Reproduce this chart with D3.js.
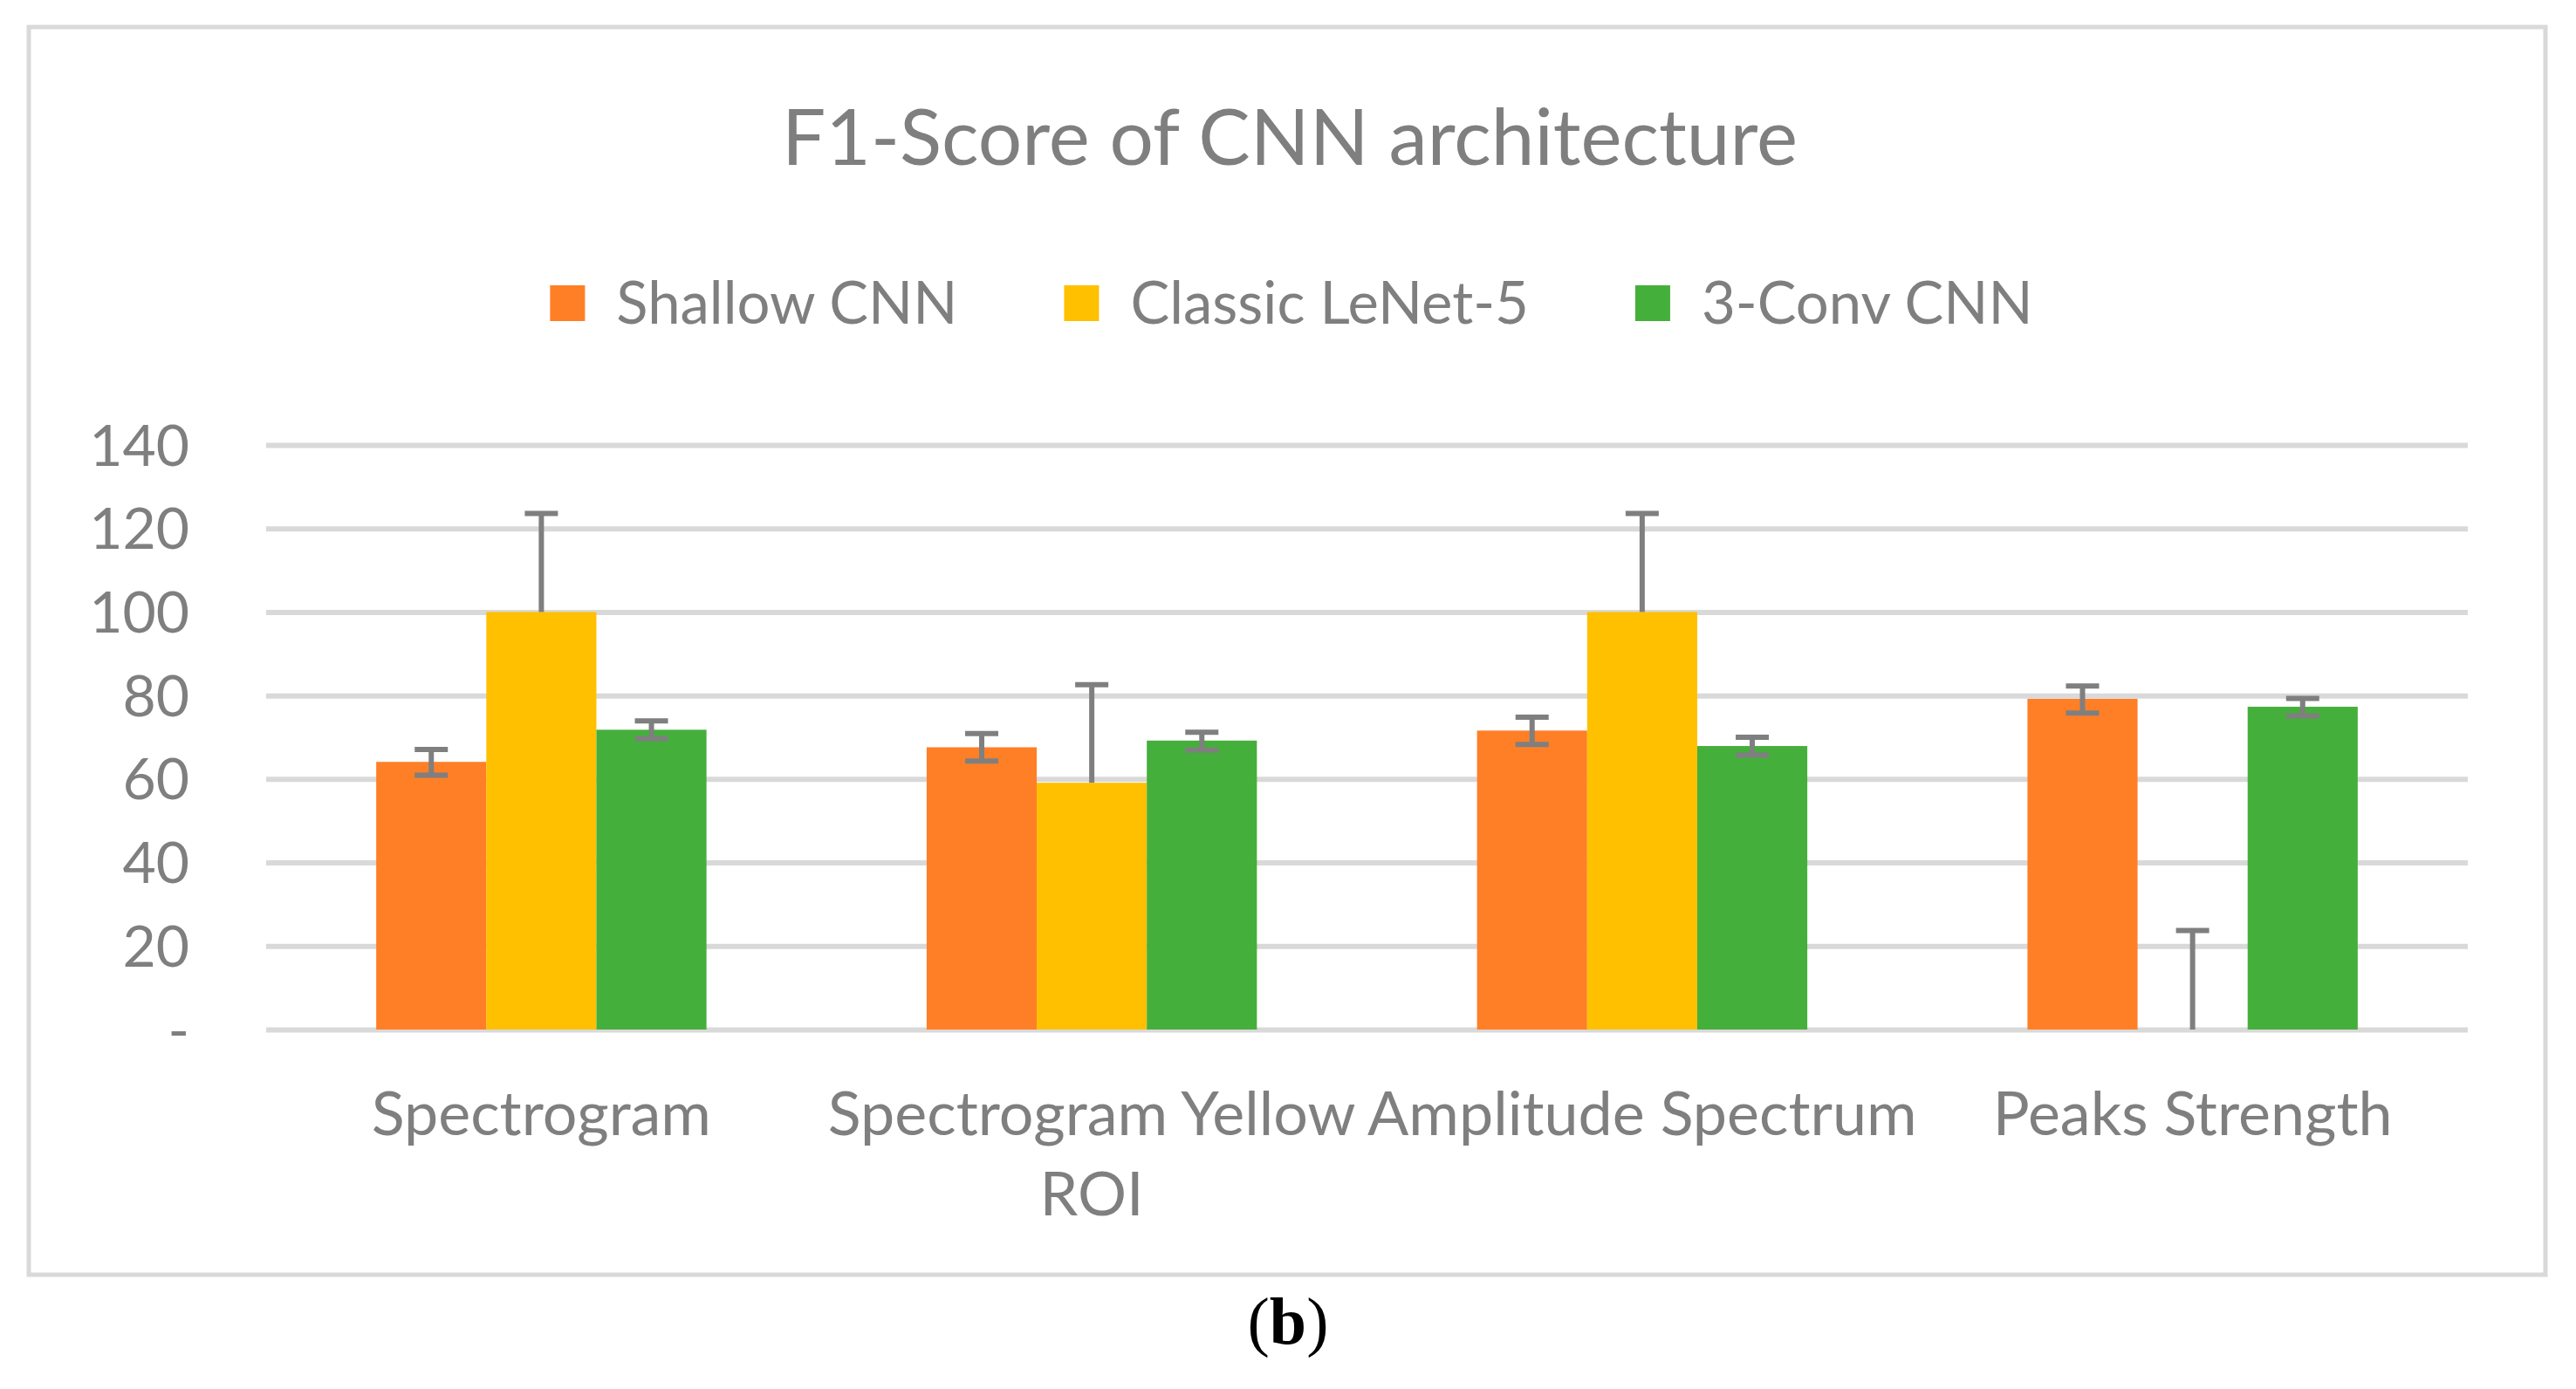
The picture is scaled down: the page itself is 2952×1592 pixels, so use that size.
<!DOCTYPE html>
<html>
<head>
<meta charset="utf-8">
<script src="https://cdnjs.cloudflare.com/ajax/libs/d3/7.8.5/d3.min.js"></script>
<style>
  body { margin: 0; background: #ffffff; }
  text { font-family: Lato, "Open Sans", sans-serif; fill: #7f7f7f; }
</style>
</head>
<body>
<script>
/**
 * F1-Score of CNN architecture - grouped bars with error bars
 */

// categories (x axis)
var categories = ['Spectrogram', 'Spectrogram Yellow ROI', 'Amplitude Spectrum', 'Peaks Strength'];

// series names + colours
var seriesNames = ['Shallow CNN', 'Classic LeNet-5', '3-Conv CNN'];
var seriesColors = ['#ff7f27', '#ffc000', '#45af3c'];

// values per series, in category order
var shallowCNN = [64.1, 67.6, 71.6, 79.2];
var classicLeNet = [100, 59.1, 100, 0];
var threeConvCNN = [71.8, 69.2, 67.9, 77.3];

// error amounts (plus / minus)
var shallowErrPlus = [3.0, 3.3, 3.2, 3.1];
var shallowErrMinus = [3.2, 3.3, 3.3, 3.4];
var lenetErrPlus = [23.6, 23.5, 23.6, 23.7];
var lenetErrMinus = [0, 0, 0, 0];
var convErrPlus = [2.1, 2.0, 2.1, 2.0];
var convErrMinus = [2.1, 2.3, 2.2, 2.2];

// y axis ticks
var yTicks = [0, 20, 40, 60, 80, 100, 120, 140];

var FS = {};

FS.width = 2952;
FS.height = 1592;

FS.series = [
	{ name: seriesNames[0], color: seriesColors[0], values: shallowCNN, plus: shallowErrPlus, minus: shallowErrMinus },
	{ name: seriesNames[1], color: seriesColors[1], values: classicLeNet, plus: lenetErrPlus, minus: lenetErrMinus },
	{ name: seriesNames[2], color: seriesColors[2], values: threeConvCNN, plus: convErrPlus, minus: convErrMinus }
];

// flat list of bars
FS.bars = [];
FS.series.forEach(function(s, si) {
	categories.forEach(function(c, ci) {
		FS.bars.push({ cat: c, series: s.name, color: s.color, value: s.values[ci],
			plus: s.plus[ci], minus: s.minus[ci] });
	});
});

FS.svg = d3.select('body')
	.append('svg')
	.attr('width', FS.width)
	.attr('height', FS.height);

FS.svg.append('rect')
	.attr('width', FS.width)
	.attr('height', FS.height)
	.attr('fill', '#ffffff');

// chart frame
FS.svg.append('rect')
	.attr('x', 33)
	.attr('y', 31)
	.attr('width', 2884)
	.attr('height', 1430)
	.attr('fill', 'none')
	.attr('stroke', '#d9d9d9')
	.attr('stroke-width', 5);

/**
 * SCALES
 */
FS.x0 = d3.scaleBand()
	.domain(categories)
	.range([305, 2828])
	.paddingInner(0.4)
	.paddingOuter(0.2);

FS.x1 = d3.scaleBand()
	.domain(seriesNames)
	.range([0, FS.x0.bandwidth()]);

FS.y = d3.scaleLinear()
	.domain([0, 140])
	.range([1180, 510]);

/**
 * GRIDLINES + Y LABELS
 */
FS.svg.append('g')
	.attr('transform', 'translate(305,0)')
	.call(d3.axisLeft(FS.y)
		.tickValues(yTicks)
		.tickSize(-(2828 - 305))
		.tickFormat(function(d) { return d === 0 ? '-' : d; }))
	.call(function(g) {
		g.select('.domain').remove();
		g.selectAll('.tick line')
			.attr('stroke', '#d9d9d9')
			.attr('stroke-width', 6);
		g.selectAll('.tick text')
			.attr('x', -88)
			.attr('dy', '0.35em')
			.style('font-size', '66px')
			.style('fill', '#7f7f7f')
			.style('font-family', 'Lato');
	});

/**
 * BARS
 */
FS.svg.append('g')
	.selectAll('rect')
	.data(FS.bars)
	.enter()
	.append('rect')
	.attr('x', function(d) { return FS.x0(d.cat) + FS.x1(d.series); })
	.attr('y', function(d) { return FS.y(d.value); })
	.attr('width', FS.x1.bandwidth())
	.attr('height', function(d) { return FS.y(0) - FS.y(d.value); })
	.attr('fill', function(d) { return d.color; });

/**
 * ERROR BARS
 */
FS.errG = FS.svg.append('g')
	.attr('stroke', '#7f7f7f')
	.attr('stroke-width', 6);

FS.bars.forEach(function(d) {
	var cx = FS.x0(d.cat) + FS.x1(d.series) + FS.x1.bandwidth() / 2;
	var top = FS.y(d.value + d.plus);
	var bot = FS.y(d.value - d.minus);
	FS.errG.append('line')
		.attr('x1', cx).attr('x2', cx)
		.attr('y1', top).attr('y2', bot);
	FS.errG.append('line')
		.attr('x1', cx - 19).attr('x2', cx + 19)
		.attr('y1', top).attr('y2', top);
	if (d.minus > 0) {
		FS.errG.append('line')
			.attr('x1', cx - 19).attr('x2', cx + 19)
			.attr('y1', bot).attr('y2', bot);
	}
});

/**
 * X LABELS (wrapped like excel)
 */
FS.xLabelLines = {
	'Spectrogram Yellow ROI': ['Spectrogram Yellow', 'ROI']
};

FS.svg.append('g')
	.selectAll('text')
	.data(categories)
	.enter()
	.append('text')
	.attr('text-anchor', 'middle')
	.style('font-size', '70px')
	.each(function(c) {
		var lines = FS.xLabelLines[c] || [c];
		var t = d3.select(this);
		lines.forEach(function(l, i) {
			t.append('tspan')
				.attr('x', FS.x0(c) + FS.x0.bandwidth() / 2)
				.attr('y', 1301 + i * 92)
				.text(l);
		});
	});

/**
 * TITLE
 */
FS.svg.append('text')
	.attr('x', 1478)
	.attr('y', 189)
	.attr('text-anchor', 'middle')
	.style('font-size', '89px')
	.text('F1-Score of CNN architecture');

/**
 * LEGEND
 */
FS.legend = FS.svg.append('g');
FS.legendX = 0;
FS.series.forEach(function(s, i) {
	var g = FS.legend.append('g').attr('transform', 'translate(' + FS.legendX + ',0)');
	g.append('rect')
		.attr('x', 0).attr('y', -21)
		.attr('width', 40).attr('height', 41)
		.attr('fill', s.color);
	var t = g.append('text')
		.attr('x', 76)
		.attr('y', 23)
		.style('font-size', '67px')
		.text(s.name);
	FS.legendX += 76 + t.node().getComputedTextLength() + 122;
});
FS.legendX -= 122;
FS.legend.attr('transform', 'translate(' + (1480 - FS.legendX / 2) + ',348)');

/**
 * CAPTION
 */
FS.cap = FS.svg.append('text')
	.attr('x', 1476)
	.attr('y', 1540)
	.attr('text-anchor', 'middle')
	.style('font-family', '"Liberation Serif", serif')
	.style('font-size', '76px')
	.style('fill', '#000000');
FS.cap.append('tspan').text('(');
FS.cap.append('tspan').style('font-weight', 'bold').text('b');
FS.cap.append('tspan').text(')');
</script>
</body>
</html>
